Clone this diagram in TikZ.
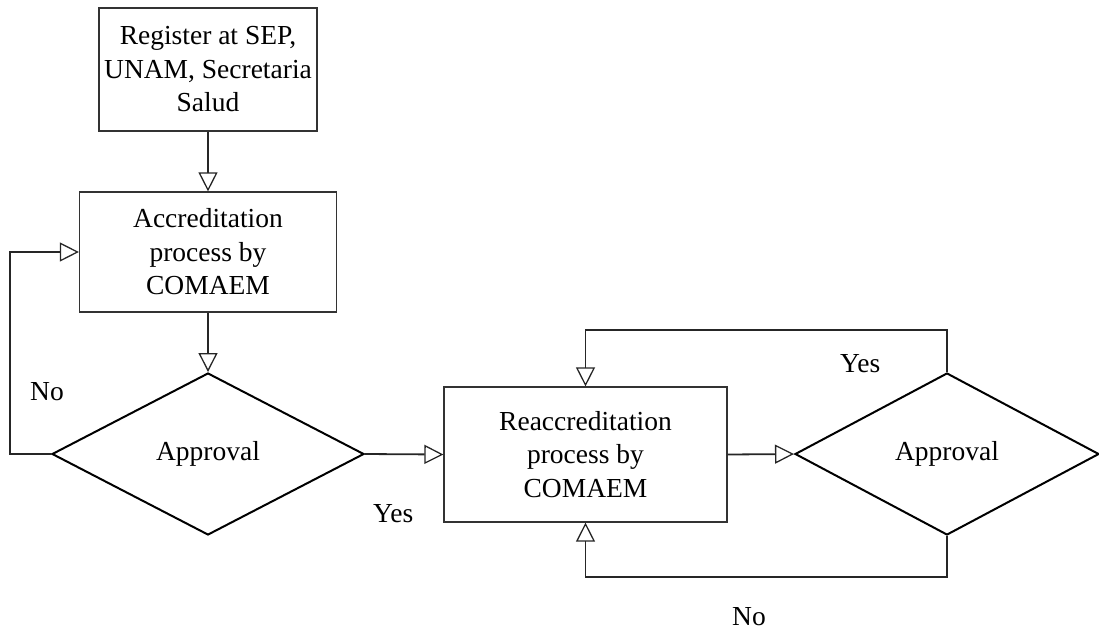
\documentclass[tikz,border=0pt]{standalone}
\usepackage{fontspec}
\setmainfont{Liberation Serif}
\usetikzlibrary{arrows.meta,shapes.geometric}
\begin{document}
\begin{tikzpicture}[x=1pt,y=-1pt,
  every node/.style={font=\fontsize{27.5}{33.5}\selectfont},
  box/.style={draw=black!80, line width=1.2pt, rectangle, align=center, inner sep=0pt},
  dia/.style={draw=black, line width=2pt, diamond, inner sep=0pt},
  conn/.style={draw=black!85, line width=1.8pt, -{Triangle[open,length=19pt,width=19pt,line width=1.3pt]}},
  lbl/.style={anchor=base west, inner sep=0pt}]
\useasboundingbox (0,0) rectangle (1099,630);
\node[box, minimum width=218pt, minimum height=123pt] (b1) at (208,69.5) {Register at SEP,\\UNAM, Secretaria\\Salud};
\node[box, minimum width=257pt, minimum height=120pt] (b2) at (208,252) {Accreditation\\process by\\COMAEM};
\node[dia, minimum width=312pt, minimum height=162pt] (d1) at (208,454) {Approval};
\node[box, minimum width=283pt, minimum height=135pt] (b3) at (585.5,454.5) {Reaccreditation\\process by\\COMAEM};
\node[dia, minimum width=304pt, minimum height=162pt] (d2) at (947,454) {Approval};
\coordinate (lx) at (10,0);
\coordinate (ty) at (0,330);
\coordinate (by) at (0,577);
\draw[conn] (b1.south) -- (b2.north);
\draw[conn] (b2.south) -- (d1.north);
\draw[conn] (d1.west) -- (d1.west -| lx) |- (b2.west);
\draw[conn] (d1.east) -- (b3.west);
\draw[conn] (b3.east) -- (d2.west);
\draw[conn] (d2.north) -- (d2.north |- ty) -| (b3.north);
\draw[conn] (d2.south) -- (d2.south |- by) -| (b3.south);
\node[lbl] (no1) at (30,400) {No};
\node[lbl] (yes1) at (373,522) {Yes};
\node[lbl] (yes2) at (840,372) {Yes};
\node[lbl] (no2) at (732,625) {No};
\end{tikzpicture}
\end{document}
